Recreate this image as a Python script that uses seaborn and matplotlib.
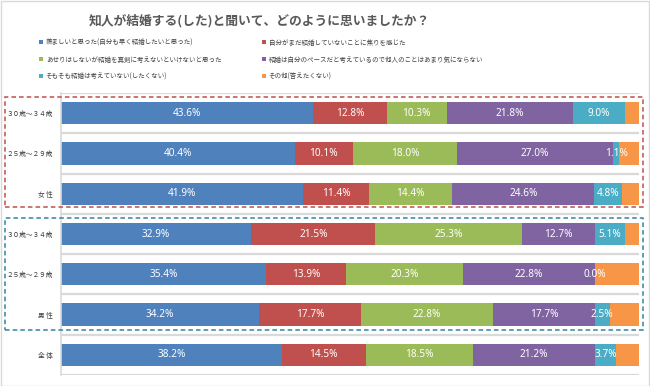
import numpy as np
import pandas as pd
import matplotlib
matplotlib.use("Agg")
import matplotlib.pyplot as plt
import seaborn as sns
from matplotlib.patches import Rectangle
from matplotlib.lines import Line2D

sns.set_theme(style="white")
plt.rcParams['font.family'] = ['Noto Sans CJK JP', 'DejaVu Sans']

title = "知人が結婚する(した)と聞いて、どのように思いましたか？"
row_keys = ["F30", "F25", "F", "M30", "M25", "M", "ALL"]
row_labels = ["３０歳～３４歳", "２５歳～２９歳", "女 性", "３０歳～３４歳", "２５歳～２９歳", "男 性", "全 体"]

series_names = [
    "羨ましいと思った(自分も早く結婚したいと思った)",
    "自分がまだ結婚していないことに焦りを感じた",
    "あせりはしないが結婚を真剣に考えないといけないと思った",
    "結婚は自分のペースだと考えているので他人のことはあまり気にならない",
    "そもそも結婚は考えていない(したくない)",
    "その他(答えたくない)",
]
s1 = [43.6, 40.4, 41.9, 32.9, 35.4, 34.2, 38.2]
s2 = [12.8, 10.1, 11.4, 21.5, 13.9, 17.7, 14.5]
s3 = [10.3, 18.0, 14.4, 25.3, 20.3, 22.8, 18.5]
s4 = [21.8, 27.0, 24.6, 12.7, 22.8, 17.7, 21.2]
s5 = [9.0, 1.1, 4.8, 5.1, 0.0, 2.5, 3.7]
s6 = [2.5, 3.4, 2.9, 2.5, 7.6, 5.1, 3.9]
series_values = [s1, s2, s3, s4, s5, s6]
colors = ["#4F81BD", "#C0504D", "#9BBB59", "#8064A2", "#4BACC6", "#F79646"]

records = []
for si, (name, vals) in enumerate(zip(series_names, series_values)):
    for rk, v in zip(row_keys, vals):
        records.append({"row": rk, "series": si, "value": v})
df = pd.DataFrame(records)
df["cum"] = df.groupby("row")["value"].cumsum()

fig = plt.figure(figsize=(6.5, 3.86), dpi=100)
fig.patch.set_facecolor("white")
ax = fig.add_axes([61/650, 1-375/386, 578/650, 282/386])

# gridlines at category boundaries
for b in np.arange(-0.5, len(row_keys), 1.0):
    ax.axhline(b, color="#D9D9D9", lw=1.6, zorder=0)

for si in reversed(range(len(series_names))):
    sub = df[df["series"] == si]
    sns.barplot(data=sub, x="cum", y="row", order=row_keys, orient="h",
                color=colors[si], saturation=1, width=0.55, ax=ax,
                linewidth=0, errorbar=None, zorder=2)

for si in range(5):
    sub = df[df["series"] == si]
    for _, r in sub.iterrows():
        yi = row_keys.index(r["row"])
        ax.text(r["cum"] - r["value"]/2, yi, f"{r['value']:.1f}%",
                ha="center", va="center", color="white", fontsize=7.2,
                family=["Noto Sans", "DejaVu Sans"], zorder=5)

ax.set_xlim(0, 100)
ax.set_ylim(len(row_keys)-0.5, -0.5)
ax.set_xlabel("")
ax.set_ylabel("")
ax.set_xticks([])
ax.set_yticks(range(len(row_keys)))
ax.set_yticklabels(row_labels)
ax.tick_params(axis="y", length=0, labelsize=4.8, colors="#404040", pad=6)
for sp in ["top", "right", "bottom"]:
    ax.spines[sp].set_visible(False)
ax.spines["left"].set_color("#D9D9D9")
ax.spines["left"].set_linewidth(1.2)
ax.set_facecolor("white")

fig.text(259/650, 1-21/386, title, ha="center", va="center", fontsize=9.2,
         fontweight="bold", color="#595959")

def make_legend(idxs, x, y):
    handles = [Line2D([], [], marker="s", ls="", markersize=3.2,
                      markerfacecolor=colors[i], markeredgewidth=0) for i in idxs]
    labels = [series_names[i] for i in idxs]
    leg = fig.legend(handles, labels, loc="upper left", bbox_to_anchor=(x, y),
                     frameon=False, fontsize=4.7, handlelength=0.6,
                     handletextpad=0.45, labelspacing=1.4, borderpad=0,
                     borderaxespad=0, labelcolor="#404040")
    return leg

make_legend([0, 2, 4], 39/650, 1-38.5/386)
make_legend([1, 3, 5], 262/650, 1-38.5/386)

# dashed group boxes
fig.add_artist(Rectangle((5/650, 1-207/386), 638/650, 110/386, transform=fig.transFigure,
                         fill=False, ec="#C0504D", ls=(0, (3, 2)), lw=1.1))
fig.add_artist(Rectangle((5/650, 1-330/386), 638/650, 112/386, transform=fig.transFigure,
                         fill=False, ec="#31859C", ls=(0, (3, 2)), lw=1.1))
# outer border
fig.add_artist(Rectangle((0.5/650, 0.5/386), 648.5/650, 384.5/386, transform=fig.transFigure,
                         fill=False, ec="#D9D9D9", lw=1))

fig.savefig("out.png", dpi=100)
